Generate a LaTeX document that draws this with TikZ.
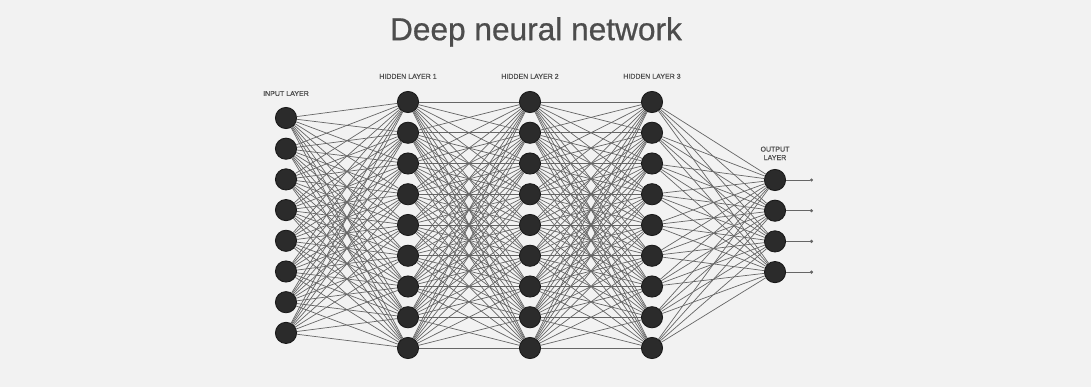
\documentclass[tikz,border=0pt]{standalone}
\usepackage{fontspec}
\setmainfont{Liberation Sans}
\newfontfamily\titlefont{Liberation Sans}[FakeBold=0.7]
\newfontfamily\labelfont{Liberation Sans}[FakeBold=0.4]
\usetikzlibrary{arrows.meta}
\usetikzlibrary{positioning}
\definecolor{dn-bg}{HTML}{F2F2F2}
\definecolor{dn-node}{HTML}{2B2B2B}
\definecolor{dn-edge}{HTML}{666666}
\definecolor{dn-text}{HTML}{4D4D4D}

\begin{document}
\begin{tikzpicture}[x=0.025cm, y=0.025cm, >=latex,
    neuron/.style={draw=black!90, fill=dn-node, circle, line width=0.6pt, minimum size=0.53cm, inner sep=0pt},
    synapse/.style={dn-edge, line width=0.5pt},
    layerlabel/.style={dn-text, font=\labelfont\fontsize{5}{6}\selectfont, align=center}]
    \fill[dn-bg] (0,0) rectangle (1091,387);
    \useasboundingbox (0,0) rectangle (1091,387);
    \node[dn-text, font=\titlefont\fontsize{22.5}{27}\selectfont] (title) at (536,355) {Deep neural network};
    % neurons
    \foreach \i in {1,...,8}
        \node[neuron] (in-\i) at (286, {269-(\i-1)*30.7}) {};
    \foreach \l/\x in {1/408, 2/530, 3/652}
        \foreach \i in {1,...,9}
            \node[neuron] (h\l-\i) at (\x, {285-(\i-1)*30.75}) {};
    \foreach \i in {1,...,4}
        \node[neuron] (out-\i) at (775, {207-(\i-1)*30.7}) {};
    % connections
    \foreach \i in {1,...,8}
        \foreach \j in {1,...,9}
            \draw[synapse] (in-\i) -- (h1-\j);
    \foreach \i in {1,...,9}
        \foreach \j in {1,...,9} {
            \draw[synapse] (h1-\i) -- (h2-\j);
            \draw[synapse] (h2-\i) -- (h3-\j);
        }
    \foreach \i in {1,...,9}
        \foreach \j in {1,...,4}
            \draw[synapse] (h3-\i) -- (out-\j);
    \foreach \i in {1,...,4} {
        \coordinate (y-\i) at (813, {207-(\i-1)*30.7});
        \draw[synapse, -{Circle[length=2.2pt]}] (out-\i) -- (y-\i);
    }
    % labels
    \node[layerlabel, above=0.15cm of in-1] (lbl-in) {INPUT LAYER};
    \node[layerlabel, above=0.18cm of h1-1] (lbl-h1) {HIDDEN LAYER 1};
    \node[layerlabel, above=0.18cm of h2-1] (lbl-h2) {HIDDEN LAYER 2};
    \node[layerlabel, above=0.18cm of h3-1] (lbl-h3) {HIDDEN LAYER 3};
    \node[layerlabel, above=0.1cm of out-1] (lbl-out) {OUTPUT\\LAYER};
\end{tikzpicture}
\end{document}
